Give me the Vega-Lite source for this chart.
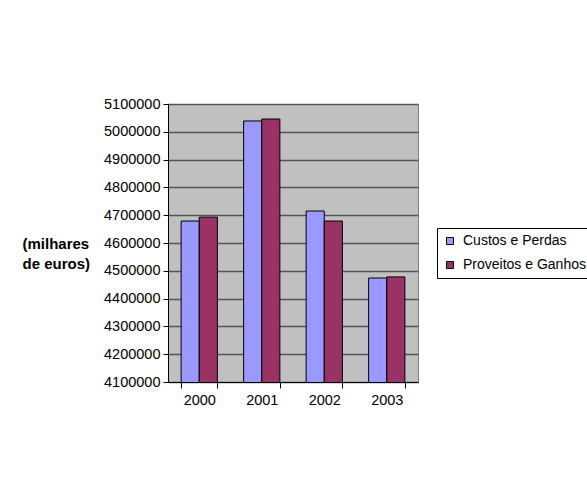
{
  "$schema": "https://vega.github.io/schema/vega-lite/v6.json",
  "autosize": {"type": "none"},
  "width": 250,
  "height": 278,
  "padding": {"left": 168, "top": 104, "right": 169, "bottom": 107},
  "background": "white",
  "config": {
    "font": "Liberation Sans",
    "view": {"fill": "#C0C0C0", "stroke": "#808080", "strokeWidth": 1}
  },
  "data": {
    "values": [
      {"ano": "2000", "serie": "Custos e Perdas", "valor": 4679000},
      {"ano": "2000", "serie": "Proveitos e Ganhos", "valor": 4693000},
      {"ano": "2001", "serie": "Custos e Perdas", "valor": 5039000},
      {"ano": "2001", "serie": "Proveitos e Ganhos", "valor": 5046000},
      {"ano": "2002", "serie": "Custos e Perdas", "valor": 4715000},
      {"ano": "2002", "serie": "Proveitos e Ganhos", "valor": 4679000},
      {"ano": "2003", "serie": "Custos e Perdas", "valor": 4474000},
      {"ano": "2003", "serie": "Proveitos e Ganhos", "valor": 4478000}
    ]
  },
  "mark": {"type": "bar", "stroke": "black", "strokeWidth": 1, "clip": true},
  "encoding": {
    "x": {
      "field": "ano", "type": "nominal",
      "scale": {"paddingInner": 0.42, "paddingOuter": 0.21},
      "axis": {
        "title": null, "labelAngle": 0, "labelFontSize": 14.5, "labelColor": "black",
        "labelPadding": 5, "domainColor": "black", "tickColor": "black",
        "tickBand": "extent", "tickSize": 6
      }
    },
    "xOffset": {"field": "serie", "type": "nominal", "scale": {"paddingInner": 0}},
    "y": {
      "field": "valor", "type": "quantitative",
      "scale": {"domain": [4100000, 5100000], "zero": false, "nice": false},
      "axis": {
        "values": [4100000, 4200000, 4300000, 4400000, 4500000, 4600000, 4700000, 4800000, 4900000, 5000000, 5100000],
        "format": "d", "labelFontSize": 14.5, "labelColor": "black", "labelPadding": 3,
        "domainColor": "black", "tickColor": "black", "tickSize": 5,
        "grid": true, "gridColor": "#555555", "gridWidth": 1.5,
        "title": ["(milhares", "de euros)"], "titleAngle": 0, "titleAlign": "left",
        "titleX": -146, "titleY": 132, "titleBaseline": "top", "titleFontSize": 15,
        "titleFontWeight": "bold", "titleLineHeight": 20, "titleColor": "black"
      }
    },
    "color": {
      "field": "serie", "type": "nominal",
      "scale": {"domain": ["Custos e Perdas", "Proveitos e Ganhos"], "range": ["#9999FF", "#993366"]},
      "legend": {
        "title": null, "orient": "none", "legendX": 269, "legendY": 124,
        "fillColor": "white", "strokeColor": "black", "padding": 6,
        "symbolType": "square", "symbolSize": 49, "symbolStrokeColor": "black", "symbolStrokeWidth": 1,
        "labelFontSize": 14, "labelColor": "black", "rowPadding": 10, "labelOffset": 6
      }
    }
  }
}
